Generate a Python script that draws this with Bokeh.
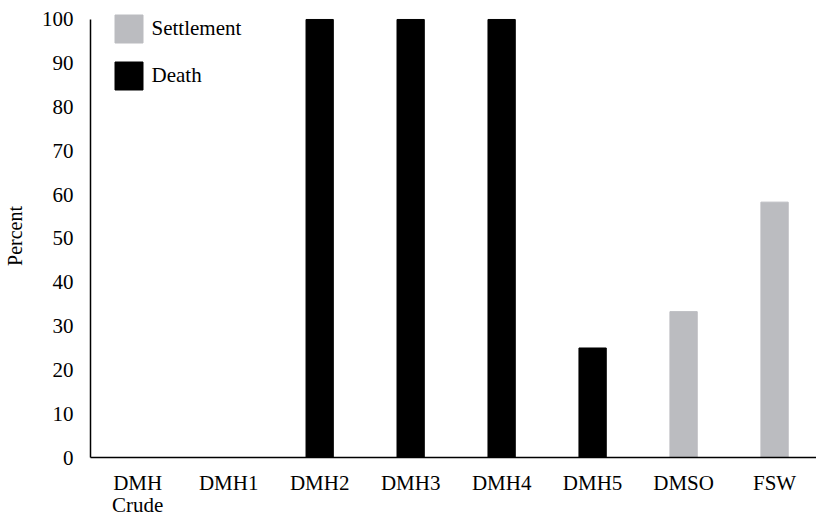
from bokeh.plotting import figure
from bokeh.models import Range1d, FixedTicker, Legend, LegendItem, ColumnDataSource
from bokeh.embed import file_html
from bokeh.resources import INLINE

categories = ["DMH\nCrude", "DMH1", "DMH2", "DMH3", "DMH4", "DMH5", "DMSO", "FSW"]
settlement = [0, 0, 0, 0, 0, 0, 33.3, 58.3]
death = [0, 0, 100, 100, 100, 25, 0, 0]
y_ticks = [0, 10, 20, 30, 40, 50, 60, 70, 80, 90, 100]

FONT = "Liberation Serif"
GRAY = "#BBBCC0"

idx = list(range(len(categories)))
src = ColumnDataSource(dict(x=idx, settlement=settlement, death=death))

p = figure(width=816, height=519, output_backend="svg", toolbar_location=None,
           x_range=Range1d(-0.519, 7.461), y_range=Range1d(0, 101.136),
           min_border_left=89, min_border_right=0, min_border_top=14, min_border_bottom=60)
p.outline_line_color = None
p.grid.visible = False

r1 = p.vbar(x="x", top="settlement", width=0.3, source=src, color=GRAY)
r2 = p.vbar(x="x", top="death", width=0.3, source=src, color="black")

p.xaxis.ticker = FixedTicker(ticks=idx)
p.xaxis.major_label_overrides = {i: c for i, c in zip(idx, categories)}
p.yaxis.ticker = FixedTicker(ticks=y_ticks)
p.yaxis.bounds = (0, 100)

for ax in (p.xaxis[0], p.yaxis[0]):
    ax.major_tick_out = 0
    ax.major_tick_in = 0
    ax.minor_tick_out = 0
    ax.minor_tick_in = 0
    ax.axis_line_color = "black"
    ax.axis_line_width = 1.5
    ax.major_label_text_font = FONT
    ax.major_label_text_font_size = "21px"
    ax.major_label_text_color = "black"

p.xaxis.major_label_standoff = 13
p.xaxis.major_label_text_line_height = 0.92
p.yaxis.major_label_standoff = 17
p.yaxis.axis_label = "Percent"
p.yaxis.axis_label_text_font = FONT
p.yaxis.axis_label_text_font_size = "20px"
p.yaxis.axis_label_text_font_style = "normal"
p.yaxis.axis_label_text_color = "black"
p.yaxis.axis_label_standoff = 13

legend = Legend(items=[LegendItem(label="Settlement", renderers=[r1]),
                       LegendItem(label="Death", renderers=[r2])],
                location=(20.5, 364.5), glyph_width=35, glyph_height=35, spacing=12,
                padding=0, margin=0, label_standoff=6,
                label_text_font=FONT, label_text_font_size="21px",
                label_text_color="black",
                border_line_color=None, background_fill_alpha=0)
p.add_layout(legend, "center")

open("out.html", "w").write(file_html(p, INLINE))
